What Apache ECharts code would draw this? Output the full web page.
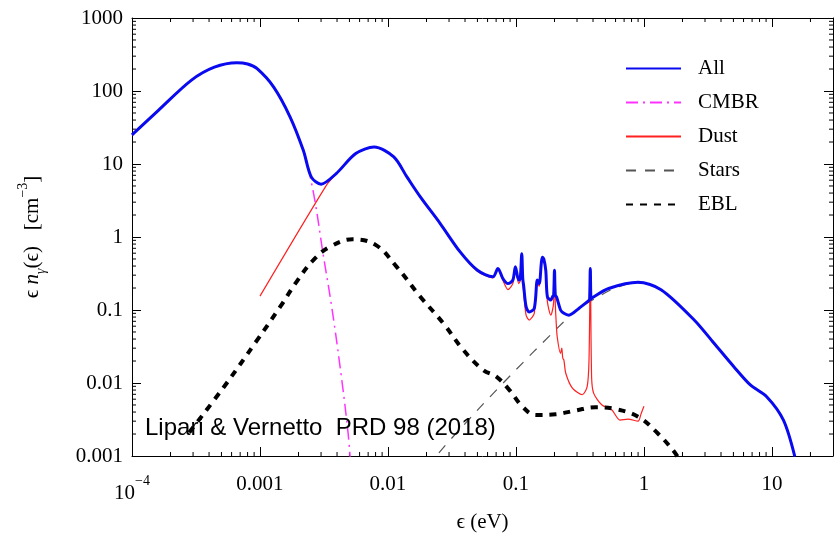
<!DOCTYPE html>
<html>
<head>
<meta charset="utf-8">
<script src="https://cdn.jsdelivr.net/npm/echarts@6/dist/echarts.min.js"></script>
<style>
  html, body { margin: 0; padding: 0; background: #fff; }
  #chart { width: 836px; height: 541px; }
</style>
</head>
<body>
<div id="chart"></div>
<script>
// Photon number density spectra (energy in eV, density in cm^-3)
const allE  = [1.0e-4, 1.6e-4, 2.9e-4, 4.4e-4, 6.6e-4, 8.0e-4, 9.5e-4, 1.28e-3, 1.72e-3, 2.18e-3, 2.52e-3, 3.0e-3, 3.94e-3, 5.6e-3, 7.8e-3,
               0.0111, 0.0141, 0.0179, 0.0256, 0.0365, 0.050, 0.066, 0.0723, 0.079, 0.0865, 0.0945, 0.099, 0.105, 0.108, 0.111, 0.113,
               0.115, 0.120, 0.127, 0.139, 0.147, 0.152, 0.158, 0.161, 0.165, 0.171, 0.176, 0.187, 0.193, 0.197, 0.200, 0.203, 0.208,
               0.223, 0.237, 0.259, 0.31, 0.37, 0.376, 0.381, 0.386, 0.393, 0.53, 0.9, 1.36, 2.47, 3.53, 5.04, 6.78, 9.1, 12.3, 15.1];
const allN  = [25, 54, 140, 212, 244, 234, 202, 113, 44, 15.4, 6.6, 5.3, 7.4, 13.9, 17.1,
               12.5, 6.6, 3.54, 1.53, 0.63, 0.35, 0.285, 0.37, 0.27, 0.23, 0.257, 0.39, 0.257, 0.27, 0.59, 0.27,
               0.21, 0.111, 0.094, 0.105, 0.257, 0.23, 0.45, 0.53, 0.5, 0.35, 0.152, 0.137, 0.152, 0.16, 0.35, 0.16, 0.15,
               0.10, 0.09, 0.085, 0.105, 0.134, 0.138, 0.37, 0.142, 0.146, 0.197, 0.24, 0.19, 0.073, 0.035, 0.0167, 0.0094, 0.0065, 0.0031, 0.00098];

const cmbrE = [1.0e-4, 1.6e-4, 2.9e-4, 4.4e-4, 6.6e-4, 8.0e-4, 9.5e-4, 1.28e-3, 1.72e-3, 2.18e-3, 2.31e-3, 2.68e-3, 3.11e-3, 3.6e-3, 4.19e-3, 4.85e-3, 5.1e-3];
const cmbrN = [25, 54, 140, 212, 244, 234, 202, 113, 44, 15.2, 11.2, 3.2, 0.59, 0.123, 0.0186, 0.00228, 0.0008];

const dustE = [1.0e-3, 3.3e-3, 3.94e-3, 5.6e-3, 7.8e-3, 0.0111, 0.0141, 0.0179, 0.0256, 0.0365, 0.050, 0.066, 0.0723, 0.079, 0.0865,
               0.0945, 0.099, 0.105, 0.108, 0.111, 0.113, 0.115, 0.120, 0.127, 0.134, 0.139, 0.147, 0.152, 0.158, 0.161, 0.165, 0.171,
               0.176, 0.187, 0.193, 0.197, 0.200, 0.203, 0.206, 0.21, 0.223, 0.228, 0.232, 0.237, 0.245, 0.276, 0.33, 0.36, 0.372,
               0.381, 0.39, 0.405, 0.47, 0.56, 0.65, 0.75, 0.9, 0.95, 1.0];
const dustN = [0.155, 5.1, 7.3, 13.8, 17.0, 12.4, 6.5, 3.5, 1.5, 0.62, 0.34, 0.275, 0.36, 0.255, 0.19,
               0.23, 0.37, 0.23, 0.25, 0.57, 0.25, 0.17, 0.085, 0.073, 0.08, 0.09, 0.24, 0.21, 0.43, 0.52, 0.48, 0.33,
               0.13, 0.085, 0.1, 0.13, 0.34, 0.12, 0.07, 0.043, 0.0255, 0.03, 0.022, 0.0206, 0.0136, 0.0085, 0.0069, 0.0089, 0.02,
               0.36, 0.012, 0.0072, 0.005, 0.0043, 0.0031, 0.0032, 0.0030, 0.0038, 0.0048];

const starsE = [0.025, 0.0297, 0.079, 0.244, 0.30, 0.42, 0.6, 0.9, 1.21, 1.73, 2.47, 3.53, 5.04, 6.78, 9.1, 12.3, 15.1];
const starsN = [0.0011, 0.00157, 0.0099, 0.073, 0.1, 0.145, 0.2, 0.235, 0.21, 0.136, 0.072, 0.034, 0.0165, 0.0093, 0.0064, 0.003, 0.00097];

const eblE = [2.8e-4, 5.24e-4, 9.5e-4, 1.44e-3, 1.93e-3, 2.6e-3, 3.5e-3, 5.3e-3, 8.0e-3, 0.0117, 0.0179, 0.0271, 0.0388, 0.0554,
              0.0702, 0.089, 0.113, 0.143, 0.204, 0.292, 0.417, 0.594, 0.9, 1.28, 1.68, 1.85];
const eblN = [0.0021, 0.0089, 0.0387, 0.111, 0.243, 0.48, 0.73, 0.93, 0.78, 0.39, 0.152, 0.0656, 0.0283, 0.0151,
              0.0122, 0.008, 0.0047, 0.00365, 0.00373, 0.0042, 0.00466, 0.0044, 0.00346, 0.00205, 0.00121, 0.00095];

// Axis ranges and tick labels
const xRange = [1e-4, 30];
const yRange = [1e-3, 1e3];
const xTickExp = [-4, -3, -2, -1, 0, 1];
const xTickText = ['{b|10}{s|\u22124}', '0.001', '0.01', '0.1', '1', '10'];
const yTickExp = [-3, -2, -1, 0, 1, 2, 3];
const yTickText = ['0.001', '0.01', '0.1', '1', '10', '100', '1000'];
const minorSteps = [2, 3, 4, 5, 6, 7, 8, 9];

const zip = (a, b) => a.map((v, i) => [v, b[i]]);

function minorValues(loExp, hiExp, limit) {
  const out = [];
  for (let p = loExp; p <= hiExp; p++) {
    for (const m of minorSteps) {
      const v = m * Math.pow(10, p);
      if (v < limit) out.push(v);
    }
  }
  return out;
}
const xMinor = minorValues(-4, 1, xRange[1] * 0.999);
const yMinor = minorValues(-3, 2, yRange[1]);

function labelFor(exps, texts) {
  return function (v) {
    const e = Math.log10(v);
    const r = Math.round(e);
    if (Math.abs(e - r) > 1e-6) return '';
    const i = exps.indexOf(r);
    return i < 0 ? '' : texts[i];
  };
}

const serif = '"Liberation Serif", "DejaVu Serif", serif';
const MAJOR = 9, MINOR = 4;

const chart = echarts.init(document.getElementById('chart'), null, { renderer: 'canvas' });

const baseX = {
  type: 'log', logBase: 10, min: xRange[0], max: xRange[1], splitNumber: 6,
  splitLine: { show: false },
  axisLine: { show: true, lineStyle: { color: '#000', width: 1 } },
  axisTick: { show: true, inside: true, length: MAJOR, lineStyle: { color: '#000', width: 1 } },
  minorTick: { show: false }
};
const baseY = {
  type: 'log', logBase: 10, min: yRange[0], max: yRange[1], splitNumber: 6,
  splitLine: { show: false },
  axisLine: { show: true, lineStyle: { color: '#000', width: 1 } },
  axisTick: { show: true, inside: true, length: MAJOR, lineStyle: { color: '#000', width: 1 } },
  minorTick: { show: false }
};

function minorTickSeries(name, values, dir) {
  return {
    name: name,
    type: 'custom',
    silent: true,
    z: 1,
    data: values.map(v => dir === 'x' ? [v, 1] : [1, v]),
    renderItem: function (params, api) {
      const v = dir === 'x' ? api.value(0) : api.value(1);
      const style = { stroke: '#000', lineWidth: 1 };
      if (dir === 'x') {
        const b = api.coord([v, yRange[0]]);
        const t = api.coord([v, yRange[1]]);
        return { type: 'group', children: [
          { type: 'line', shape: { x1: b[0], y1: b[1], x2: b[0], y2: b[1] - MINOR }, style: style },
          { type: 'line', shape: { x1: t[0], y1: t[1], x2: t[0], y2: t[1] + MINOR }, style: style }
        ] };
      }
      const l = api.coord([xRange[0], v]);
      const r = api.coord([xRange[1], v]);
      return { type: 'group', children: [
        { type: 'line', shape: { x1: l[0], y1: l[1], x2: l[0] + MINOR, y2: l[1] }, style: style },
        { type: 'line', shape: { x1: r[0], y1: r[1], x2: r[0] - MINOR, y2: r[1] }, style: style }
      ] };
    }
  };
}

function curve(name, e, n, color, width, dash, z, smooth) {
  return {
    name: name, type: 'line', data: zip(e, n), symbol: 'none', showSymbol: false,
    smooth: smooth, z: z, clip: true,
    lineStyle: { color: color, width: width, type: dash, cap: 'butt', join: 'round' },
    itemStyle: { color: color },
    emphasis: { disabled: true }
  };
}

chart.setOption({
  animation: false,
  backgroundColor: '#fff',
  grid: { left: 132, top: 18, width: 709, height: 438, containLabel: false },
  xAxis: [
    Object.assign({}, baseX, {
      position: 'bottom',
      name: '\u03F5 (eV)', nameLocation: 'middle', nameGap: 56,
      nameTextStyle: { fontFamily: serif, fontSize: 21, color: '#000' },
      axisLabel: {
        show: true, margin: 18, color: '#000', fontFamily: serif, fontSize: 21,
        formatter: labelFor(xTickExp, xTickText),
        rich: {
          b: { fontFamily: serif, fontSize: 21, color: '#000', lineHeight: 30, verticalAlign: 'bottom' },
          s: { fontFamily: serif, fontSize: 14, color: '#000', lineHeight: 30, verticalAlign: 'top' }
        }
      }
    }),
    Object.assign({}, baseX, { position: 'top', axisLabel: { show: false } })
  ],
  yAxis: [
    Object.assign({}, baseY, {
      position: 'left',
      name: '\u03F5 {i|n}{sub|\u03B3}(\u03F5)   [cm{sup|\u22123}]',
      nameLocation: 'middle', nameGap: 84, nameRotate: 90,
      nameTextStyle: {
        fontFamily: serif, fontSize: 21, color: '#000', lineHeight: 32,
        rich: {
          i: { fontFamily: serif, fontSize: 21, fontStyle: 'italic', color: '#000', lineHeight: 32 },
          sub: { fontFamily: serif, fontSize: 14, fontStyle: 'italic', color: '#000', lineHeight: 32, verticalAlign: 'bottom' },
          sup: { fontFamily: serif, fontSize: 14, color: '#000', lineHeight: 32, verticalAlign: 'top' }
        }
      },
      axisLabel: { show: true, margin: 9, color: '#000', fontFamily: serif, fontSize: 21,
                   formatter: labelFor(yTickExp, yTickText) }
    }),
    Object.assign({}, baseY, { position: 'right', axisLabel: { show: false } })
  ],
  legend: {
    data: ['All', 'CMBR', 'Dust', 'Stars', 'EBL'],
    orient: 'vertical', left: 625, top: 58, padding: 0,
    itemWidth: 55, itemHeight: 14, itemGap: 13,
    selectedMode: false,
    itemStyle: { opacity: 0 },
    textStyle: { fontFamily: serif, fontSize: 21, color: '#000', padding: [0, 0, 0, 12] }
  },
  graphic: [{
    type: 'text', left: 145, top: 416, silent: true,
    style: { text: 'Lipari & Vernetto  PRD 98 (2018)', fontFamily: '"Liberation Sans", "Open Sans", sans-serif',
             fontSize: 24, fill: '#000' },
    z: 20
  }],
  series: [
    minorTickSeries('xMinor', xMinor, 'x'),
    minorTickSeries('yMinor', yMinor, 'y'),
    curve('CMBR', cmbrE, cmbrN, '#ff33ff', 1.5, [12, 5, 2, 5], 3, 0.4),
    curve('Dust', dustE, dustN, '#ff2020', 1.2, 'solid', 4, 0.25),
    curve('Stars', starsE, starsN, '#555555', 1.2, [10, 9], 3, 0.4),
    curve('EBL', eblE, eblN, '#000000', 4, [7, 7], 5, 0.4),
    curve('All', allE, allN, '#0a0af0', 3, 'solid', 10, 0.3)
  ]
});
</script>
</body>
</html>
